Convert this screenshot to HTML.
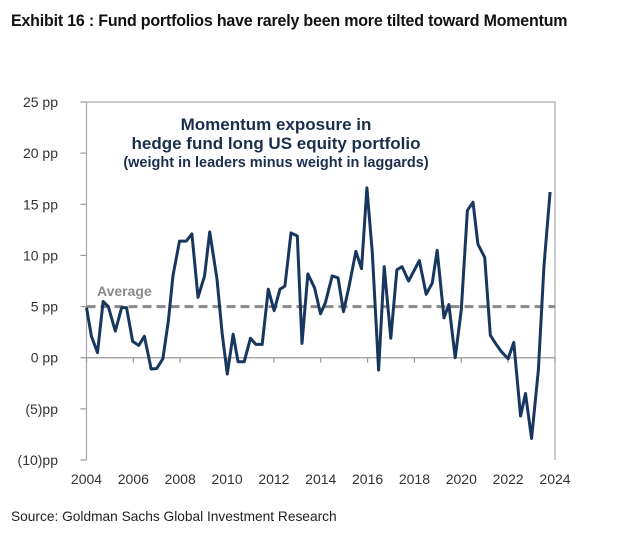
<!DOCTYPE html>
<html><head><meta charset="utf-8"><style>
body{margin:0;background:#fff;width:620px;height:541px;overflow:hidden;font-family:"Liberation Sans",sans-serif}
#title{position:absolute;left:11px;top:11px;font-family:"Liberation Sans Narrow","Liberation Sans",sans-serif;font-weight:bold;font-size:17px;color:#111;letter-spacing:-0.2px;transform:scaleX(0.94);transform-origin:0 0;white-space:nowrap}
#source{position:absolute;left:11px;top:508px;font-family:"Liberation Sans Narrow","Liberation Sans",sans-serif;font-size:14px;color:#222;transform:scaleX(0.98);transform-origin:0 0;white-space:nowrap}
svg{position:absolute;left:0;top:0}
</style></head><body>
<div id="title">Exhibit 16 : Fund portfolios have rarely been more tilted toward Momentum</div>
<svg id="chart" width="620" height="541"></svg>
<div id="source">Source: Goldman Sachs Global Investment Research</div>
<script>
const years=[2004.0,2004.21,2004.47,2004.71,2004.93,2005.23,2005.5,2005.71,2005.97,2006.23,2006.47,2006.76,2007.0,2007.26,2007.5,2007.69,2007.97,2008.26,2008.5,2008.76,2009.04,2009.26,2009.57,2009.79,2010.01,2010.26,2010.47,2010.73,2011.0,2011.23,2011.5,2011.76,2012.01,2012.26,2012.47,2012.73,2013.0,2013.2,2013.45,2013.74,2013.99,2014.2,2014.49,2014.74,2014.97,2015.21,2015.5,2015.74,2015.97,2016.2,2016.47,2016.71,2016.99,2017.25,2017.47,2017.75,2018.21,2018.5,2018.76,2018.97,2019.26,2019.47,2019.74,2020.0,2020.26,2020.5,2020.71,2021.0,2021.24,2021.46,2021.71,2022.0,2022.24,2022.53,2022.74,2023.0,2023.29,2023.53,2023.79];
const values=[4.9,2.1,0.5,5.5,5.0,2.6,4.9,4.9,1.6,1.2,2.1,-1.1,-1.05,-0.1,3.7,8.0,11.4,11.4,12.1,5.9,8.0,12.3,7.7,2.4,-1.6,2.3,-0.4,-0.4,1.9,1.3,1.3,6.7,4.6,6.7,7.0,12.2,11.9,1.4,8.2,6.8,4.3,5.4,8.0,7.8,4.5,7.0,10.4,8.7,16.6,10.3,-1.2,8.9,1.9,8.6,8.9,7.5,9.5,6.2,7.3,10.5,3.9,5.2,0.0,4.7,14.4,15.2,11.1,9.8,2.2,1.4,0.6,-0.1,1.5,-5.7,-3.5,-7.9,-1.2,9.0,16.2];
const average=[5.0];
const yTicks=[25,20,15,10,5,0,-5,-10];
const yTickLabels=["25 pp","20 pp","15 pp","10 pp","5 pp","0 pp","(5)pp","(10)pp"];
const xTicks=[2004,2006,2008,2010,2012,2014,2016,2018,2020,2022,2024];

const X0=86.5,X1=555,Y0=102,Y1=460;
const xs=y=>X0+(y-2004)/20*(X1-X0);
const ys=v=>Y1-(v+10)/35*(Y1-Y0);
const NS="http://www.w3.org/2000/svg";
const svg=document.getElementById('chart');
function mk(t,a,p){const e=document.createElementNS(NS,t);for(const k in a)e.setAttribute(k,a[k]);(p||svg).appendChild(e);return e;}

let e;
e=mk('path',{d:`M${X0},${Y1}V${Y0}H${X1}V${Y1}`,fill:'none',stroke:'#aaa','stroke-width':1.2});



yTicks.forEach((v,i)=>{
  const t=mk('line',{x1:X0-6,x2:X0,y1:ys(v),y2:ys(v),stroke:'#999','stroke-width':1.2});
  
  
  const l=mk('text',{x:58,y:ys(v)+5,'text-anchor':'end','font-size':14,fill:'#333'});
  l.textContent=yTickLabels[i];
  
  
});
e=mk('line',{x1:X0,x2:X1,y1:ys(0),y2:ys(0),stroke:'#999','stroke-width':1.2});


xTicks.forEach(y=>{
  const t=mk('line',{x1:xs(y),x2:xs(y),y1:ys(0),y2:ys(0)+5,stroke:'#999','stroke-width':1.2});
  
  
  const l=mk('text',{x:xs(y),y:484,'text-anchor':'middle','font-size':14,fill:'#333'});
  l.textContent=y;
  
  
});

e=mk('line',{x1:X0,x2:X1,y1:ys(average[0]),y2:ys(average[0]),stroke:'#8a8a8a','stroke-width':3,'stroke-dasharray':'9,5'});


e=mk('text',{x:97,y:296,'font-size':14,'font-weight':'bold',fill:'#8a8a8a'});
e.textContent='Average';



e=mk('polyline',{points:years.map((y,i)=>xs(y)+','+ys(values[i])).join(' '),fill:'none',stroke:'#17375e','stroke-width':3,'stroke-linejoin':'round'});



[["Momentum exposure in",130,17],["hedge fund long US equity portfolio",149,17],["(weight in leaders minus weight in laggards)",167,14.5]].forEach(([s,y,f])=>{
  const t=mk('text',{x:276,y:y,'text-anchor':'middle','font-size':f,'font-weight':'bold',fill:'#1b2f4d'});
  t.textContent=s;
  
  
});
</script>
</body></html>
